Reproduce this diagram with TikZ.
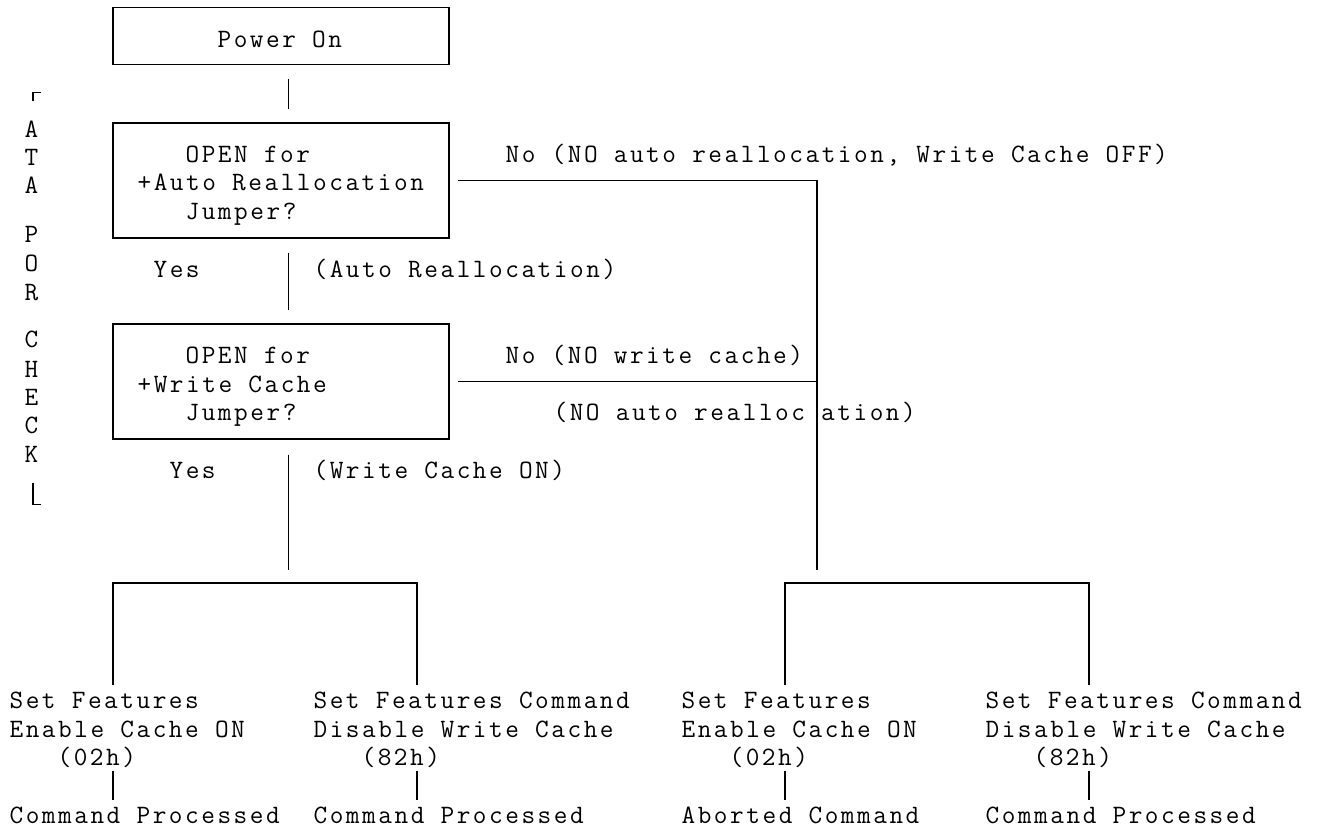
\documentclass[tikz,border=0pt]{standalone}
\usepackage{fontspec}
\usepackage{tikz}
\newfontfamily\termface[LetterSpace=9.6]{Latin Modern Mono}
\newcommand\termfont{\termface\fontsize{26.5}{28.75}\selectfont}
\tikzset{
  porpicture/.style={x=1pt, y=-1pt, line width=1.2pt},
  portext/.style={font=\termfont, anchor=base west, inner sep=0pt, text height=16pt, text depth=5pt},
  porside/.style={portext, anchor=base},
  porbox/.style={draw, inner sep=0pt, minimum width=336pt},
  porline/.style={draw, line cap=butt}
}

\begin{document}
\begin{tikzpicture}[porpicture]
\useasboundingbox (0,0) rectangle (1317,831);

% decision boxes
\node[porbox, minimum height=57pt] (power) at (281,35.75) {};
\node[porbox, minimum height=115pt] (qauto) at (281,180.5) {};
\node[porbox, minimum height=115pt] (qcache) at (281,381.5) {};

\node[portext] (poweron) at (217,47) {Power On};
\node[portext] (autoA) at (185,162) {OPEN for};
\node[portext] (autoB) at (137,190.75) {+Auto Reallocation};
\node[portext] (autoC) at (185,219.5) {Jumper?};
\node[portext] (cacheA) at (185,363.25) {OPEN for};
\node[portext] (cacheB) at (137,392) {+Write Cache};
\node[portext] (cacheC) at (185,420.75) {Jumper?};

% branch labels
\node[portext] (noauto) at (505,162) {No (NO auto reallocation, Write Cache OFF)};
\node[portext] (yesauto) at (153,277) {Yes};
\node[portext] (autoon) at (313,277) {(Auto Reallocation)};
\node[portext] (nocache) at (505,363.25) {No (NO write cache)};
\node[portext] (noalloc) at (553,420.75) {(NO auto realloc ation)};
\node[portext] (yescache) at (169,478.25) {Yes};
\node[portext] (cacheon) at (313,478.25) {(Write Cache ON)};

% side label
\node[porside] (sideA1) at (31.5,137) {A};
\node[porside] (sideT) at (31.5,165) {T};
\node[porside] (sideA2) at (31.5,193) {A};
\node[porside] (sideP) at (31.5,242) {P};
\node[porside] (sideO) at (31.5,271) {O};
\node[porside] (sideR) at (31.5,300) {R};
\node[porside] (sideC1) at (31.5,347) {C};
\node[porside] (sideH) at (31.5,377) {H};
\node[porside] (sideE) at (31.5,405) {E};
\node[porside] (sideC2) at (31.5,433) {C};
\node[porside] (sideK) at (31.5,462) {K};

% set features results
\node[portext] (featA1) at (9,708.25) {Set Features};
\node[portext] (featA2) at (9,737) {Enable Cache ON};
\node[portext] (hexA) at (57,765.75) {(02h)};
\node[portext] (doneA) at (9,823.25) {Command Processed};
\node[portext] (featB1) at (313,708.25) {Set Features Command};
\node[portext] (featB2) at (313,737) {Disable Write Cache};
\node[portext] (hexB) at (361,765.75) {(82h)};
\node[portext] (doneB) at (313,823.25) {Command Processed};
\node[portext] (featC1) at (681,708.25) {Set Features};
\node[portext] (featC2) at (681,737) {Enable Cache ON};
\node[portext] (hexC) at (729,765.75) {(02h)};
\node[portext] (doneC) at (681,823.25) {Aborted Command};
\node[portext] (featD1) at (985,708.25) {Set Features Command};
\node[portext] (featD2) at (985,737) {Disable Write Cache};
\node[portext] (hexD) at (1033,765.75) {(82h)};
\node[portext] (doneD) at (985,823.25) {Command Processed};

\coordinate (splitY) at (288.5,583);
\coordinate (splitN) at (817,583);
\coordinate (legA) at (113,583);
\coordinate (legB) at (417,583);
\coordinate (legC) at (785,583);
\coordinate (legD) at (1089,583);

% yes path
\draw[porline, shorten <=14pt, shorten >=13pt] ([xshift=7.5pt]power.south) -- ([xshift=7.5pt]qauto.north);
\draw[porline, shorten <=14pt, shorten >=13pt] ([xshift=7.5pt]qauto.south) -- ([xshift=7.5pt]qcache.north);
\draw[porline, shorten <=15pt, shorten >=13pt] ([xshift=7.5pt]qcache.south) -- (splitY);

% no path
\draw[porline, shorten <=8pt, shorten >=13pt] (qauto.east) -| (splitN);
\draw[porline, shorten <=8pt] (qcache.east) -- (qcache.east -| splitN);

% brackets to the commands
\draw[porline, shorten <=7pt, shorten >=7pt] (featA1.north -| legA) |- (legB) -- (featB1.north -| legB);
\draw[porline, shorten <=7pt, shorten >=7pt] (featC1.north -| legC) |- (legD) -- (featD1.north -| legD);
\draw[porline, shorten >=7pt] (hexA.south -| legA) -- (doneA.north -| legA);
\draw[porline, shorten >=7pt] (hexB.south -| legB) -- (doneB.north -| legB);
\draw[porline, shorten >=7pt] (hexC.south -| legC) -- (doneC.north -| legC);
\draw[porline, shorten >=7pt] (hexD.south -| legD) -- (doneD.north -| legD);

% corner marks of the side label
\draw[porline, shorten <=19pt] ([xshift=1.5pt]sideA1.north) |- ++(8,-28);
\draw[porline, shorten <=15pt] ([xshift=1.5pt]sideK.south) |- ++(8,37);
\end{tikzpicture}
\end{document}
